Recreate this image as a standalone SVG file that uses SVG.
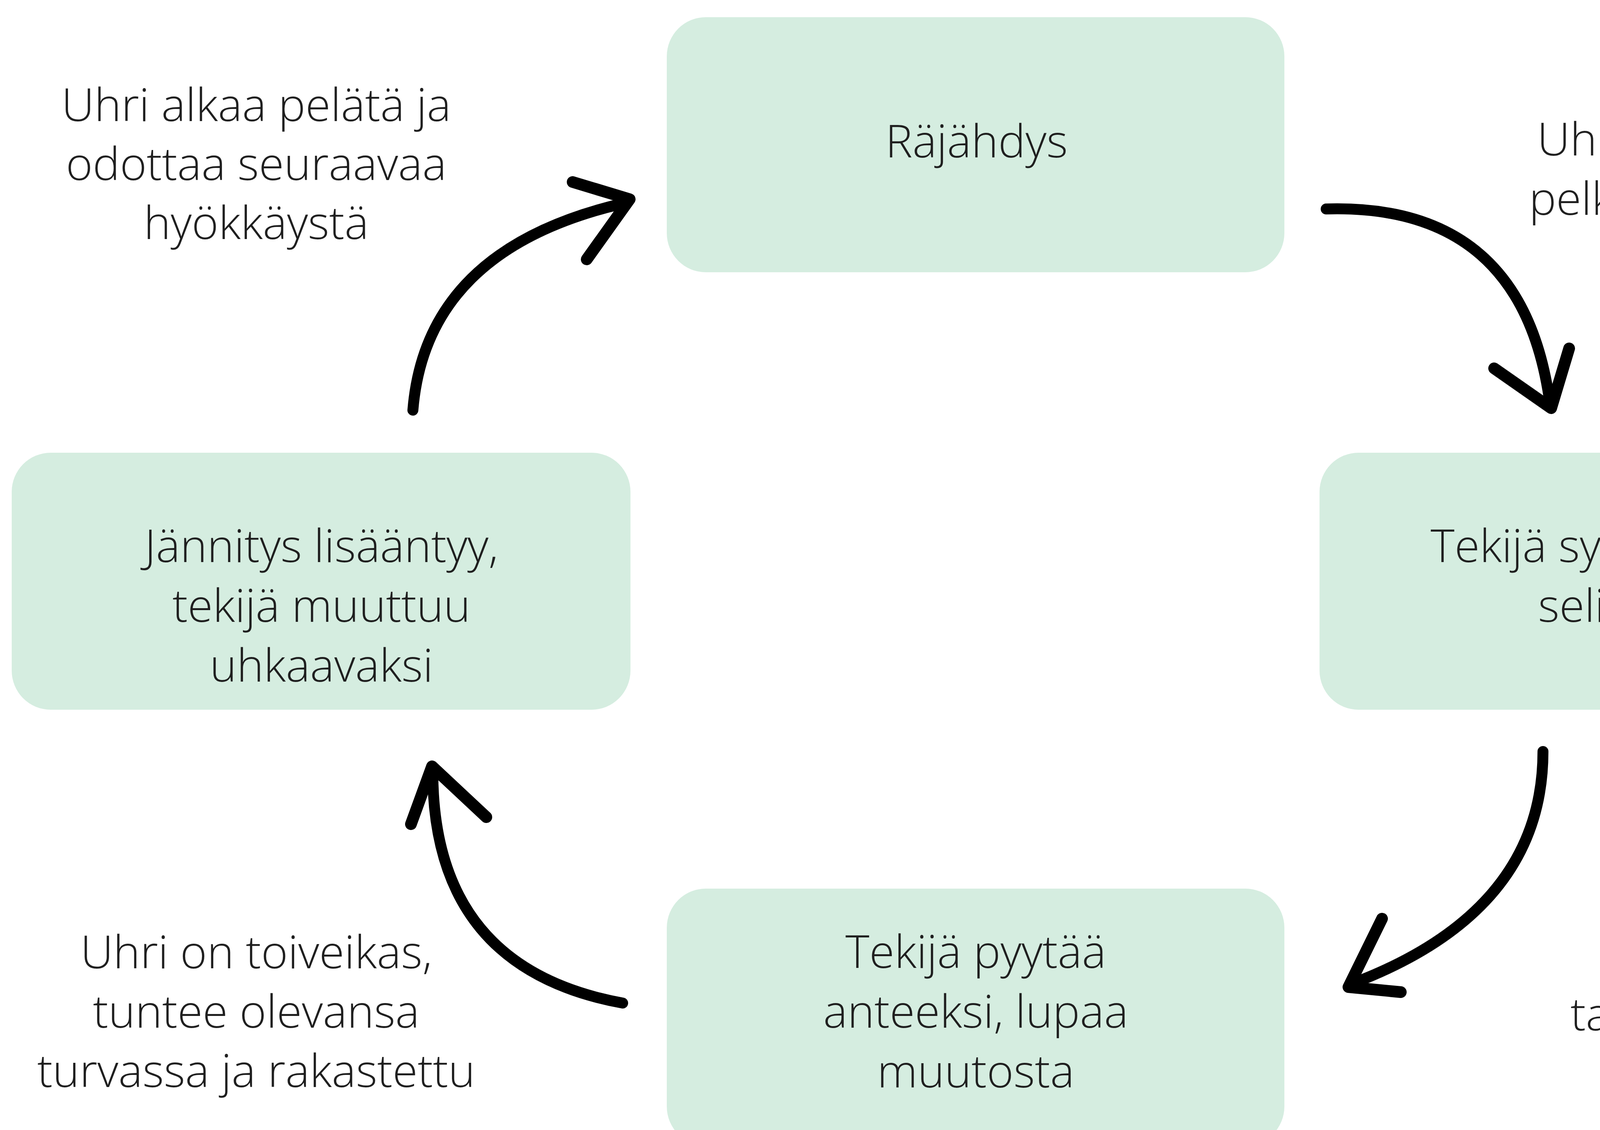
<svg xmlns="http://www.w3.org/2000/svg" width="4957" height="2893" viewBox="0 0 4957 2893">
<style>
.box{fill:#d5ede0}
.t{font-family:"Open Sans","Liberation Sans",sans-serif;font-size:117px;font-weight:300;fill:#1f1f1f;text-anchor:middle}
.c{fill:none;stroke:#000;stroke-width:28;stroke-linecap:round}
.h{fill:none;stroke:#000;stroke-width:30;stroke-linecap:round;stroke-linejoin:round}
</style>
<rect width="4957" height="2893" fill="#fff"/>
<g id="node-rajahdys">
<rect class="box" x="1707" y="44" width="1581" height="653" rx="100"/>
<text class="t" x="2500" y="403">Räjähdys</text>
</g>
<g id="node-syyttaa">
<rect class="box" x="3378" y="1159" width="1581" height="658" rx="100"/>
<text class="t" x="4172" y="1439">Tekijä syyttää uhria,</text>
<text class="t" x="4172" y="1592">selittelee</text>
</g>
<g id="node-pyytaa">
<rect class="box" x="1707" y="2275" width="1581" height="658" rx="100"/>
<text class="t" x="2498" y="2478">Tekijä pyytää</text>
<text class="t" x="2498" y="2631">anteeksi, lupaa</text>
<text class="t" x="2498" y="2784">muutosta</text>
</g>
<g id="node-jannitys">
<rect class="box" x="30" y="1159" width="1584" height="658" rx="100"/>
<text class="t" x="823" y="1439">Jännitys lisääntyy,</text>
<text class="t" x="823" y="1592">tekijä muuttuu</text>
<text class="t" x="823" y="1745">uhkaavaksi</text>
</g>
<g id="connectors">
<path class="c" d="M1057,1050 Q1090,640 1590,522"/>
<path class="h" d="M1466,466 L1612,510 L1502,664"/>
<path class="c" d="M3395,535 Q3900,520 3968,1035"/>
<path class="h" d="M3825,943 L3971,1045 L4017,892"/>
<path class="c" d="M3950,1924 Q3950,2330 3470,2515"/>
<path class="h" d="M3538,2352 L3452,2527 L3586,2540"/>
<path class="c" d="M1594,2568 Q1110,2480 1108,1980"/>
<path class="h" d="M1052,2110 L1106,1962 L1245,2092"/>
</g>
<g id="labels">
<text class="t" x="656" y="310">Uhri alkaa pelätä ja</text>
<text class="t" x="656" y="461">odottaa seuraavaa</text>
<text class="t" x="656" y="612">hyökkäystä</text>
<text class="t" x="4405" y="398">Uhri tuntee kipua,</text>
<text class="t" x="4405" y="550">pelkoa, pettymystä</text>
<text class="t" x="4402" y="2332">Uhri tuntee</text>
<text class="t" x="4402" y="2485">syyllisyyttä</text>
<text class="t" x="4402" y="2638">tapahtuneesta</text>
<text class="t" x="656" y="2479">Uhri on toiveikas,</text>
<text class="t" x="656" y="2631">tuntee olevansa</text>
<text class="t" x="656" y="2783">turvassa ja rakastettu</text>
</g>
</svg>
